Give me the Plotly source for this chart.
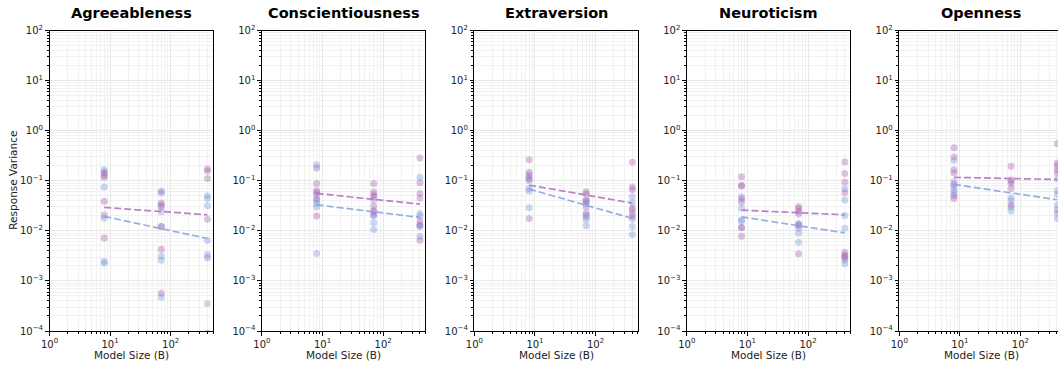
import math
import plotly.graph_objects as go

# ---------------- data ----------------
SIZES = [8, 70, 405]          # model sizes (B)
TREND_X = [8, 405]
TRAITS = ["Agreeableness", "Conscientiousness", "Extraversion", "Neuroticism", "Openness"]

# purple series values per model size
AGREEABLENESS_PURPLE = [[0.143, 0.126, 0.118, 0.039, 0.0206, 0.0072],
                        [0.062, 0.0358, 0.0327, 0.0298, 0.0122, 0.0043, 0.00057],
                        [0.171, 0.156, 0.111, 0.0171, 0.0029, 0.00009]]
AGREEABLENESS_BLUE = [[0.165, 0.15, 0.075, 0.0178, 0.00247, 0.00225],
                      [0.057, 0.024, 0.0122, 0.0031, 0.0026, 0.00047],
                      [0.05, 0.044, 0.0316, 0.0064, 0.00336, 0.00035]]
AGREEABLENESS_TREND_PURPLE = [0.0293, 0.0209]
AGREEABLENESS_TREND_BLUE = [0.0194, 0.00703]

CONSCIENTIOUSNESS_PURPLE = [[0.179, 0.0885, 0.063, 0.058, 0.0437, 0.0197],
                            [0.0885, 0.0594, 0.0525, 0.0479, 0.0312, 0.0251, 0.0209],
                            [0.284, 0.091, 0.0558, 0.045, 0.0158, 0.0124, 0.0065]]
CONSCIENTIOUSNESS_BLUE = [[0.209, 0.0525, 0.040, 0.0352, 0.030, 0.00352],
                          [0.0411, 0.024, 0.0197, 0.0145, 0.0106],
                          [0.117, 0.0222, 0.0197, 0.0136, 0.0125, 0.00783]]
CONSCIENTIOUSNESS_TREND_PURPLE = [0.0558, 0.0342]
CONSCIENTIOUSNESS_TREND_BLUE = [0.0331, 0.0185]

EXTRAVERSION_PURPLE = [[0.263, 0.147, 0.13, 0.108, 0.0177],
                       [0.060, 0.055, 0.040, 0.0298, 0.0206],
                       [0.233, 0.0748, 0.066, 0.028, 0.0219, 0.0194]]
EXTRAVERSION_BLUE = [[0.119, 0.1, 0.0703, 0.0622, 0.0288],
                     [0.0417, 0.038, 0.0347, 0.0226, 0.0188, 0.0166, 0.0126],
                     [0.0472, 0.0358, 0.0263, 0.0171, 0.0122, 0.00845]]
EXTRAVERSION_TREND_PURPLE = [0.082, 0.0358]
EXTRAVERSION_TREND_BLUE = [0.0682, 0.0177]

NEUROTICISM_PURPLE = [[0.12, 0.0807, 0.079, 0.0437, 0.0375, 0.0117, 0.0078],
                      [0.0302, 0.0275, 0.0244, 0.0216, 0.0128, 0.0035],
                      [0.236, 0.14, 0.094, 0.0575, 0.00375, 0.0033, 0.0031, 0.0029]]
NEUROTICISM_BLUE = [[0.0479, 0.0284, 0.0164, 0.0158, 0.0117],
                    [0.014, 0.0135, 0.0113, 0.0091, 0.0059],
                    [0.069, 0.0411, 0.0203, 0.0113, 0.0026, 0.0022]]
NEUROTICISM_TREND_PURPLE = [0.0259, 0.0209]
NEUROTICISM_TREND_BLUE = [0.019, 0.0091]

OPENNESS_PURPLE = [[0.457, 0.298, 0.166, 0.143, 0.0845, 0.05, 0.0443],
                   [0.194, 0.105, 0.0955, 0.0703, 0.0327],
                   [0.55, 0.226, 0.2, 0.166, 0.143, 0.026]]
OPENNESS_BLUE = [[0.255, 0.0955, 0.0748, 0.0641, 0.0567],
                 [0.087, 0.0457, 0.0404, 0.0298, 0.0248],
                 [0.108, 0.064, 0.0533, 0.0327, 0.0222, 0.0177]]
OPENNESS_TREND_PURPLE = [0.117, 0.106]
OPENNESS_TREND_BLUE = [0.0845, 0.0417]

Y_TICK_VALS = [1e-4, 1e-3, 1e-2, 1e-1, 1, 10, 100]
Y_TICK_TEXT = ["10<sup>−4</sup>", "10<sup>−3</sup>", "10<sup>−2</sup>", "10<sup>−1</sup>",
               "10<sup>0</sup>", "10<sup>1</sup>", "10<sup>2</sup>"]
X_TICK_VALS = [1, 10, 100]
X_TICK_TEXT = ["10<sup>0</sup>", "10<sup>1</sup>", "10<sup>2</sup>"]

PANELS = [
    (AGREEABLENESS_PURPLE, AGREEABLENESS_BLUE, AGREEABLENESS_TREND_PURPLE, AGREEABLENESS_TREND_BLUE),
    (CONSCIENTIOUSNESS_PURPLE, CONSCIENTIOUSNESS_BLUE, CONSCIENTIOUSNESS_TREND_PURPLE, CONSCIENTIOUSNESS_TREND_BLUE),
    (EXTRAVERSION_PURPLE, EXTRAVERSION_BLUE, EXTRAVERSION_TREND_PURPLE, EXTRAVERSION_TREND_BLUE),
    (NEUROTICISM_PURPLE, NEUROTICISM_BLUE, NEUROTICISM_TREND_PURPLE, NEUROTICISM_TREND_BLUE),
    (OPENNESS_PURPLE, OPENNESS_BLUE, OPENNESS_TREND_PURPLE, OPENNESS_TREND_BLUE),
]

# ---------------- styling ----------------
W, H = 1058, 367
FONT = "DejaVu Sans"
PURPLE_PT = "rgba(168,96,176,0.38)"
BLUE_PT = "rgba(120,150,220,0.38)"
PURPLE_LN = "rgba(176,118,190,0.9)"
BLUE_LN = "rgba(140,165,225,0.9)"
GRID_MAJ = "#e8e8e8"
GRID_MIN = "#f1f1f1"

LEFT0 = 49.5
STEP = 212.45
PW = 163.5
TOP, BOT = 30.5, 331.0
XMAX = 500.0

minor_x = [k * 10 ** e for e in range(0, 3) for k in range(2, 10)]
minor_y = [k * 10.0 ** e for e in range(-4, 2) for k in range(2, 10)]


def flat(groups):
    xs, ys = [], []
    for s, vals in zip(SIZES, groups):
        xs += [s] * len(vals)
        ys += vals
    return xs, ys


fig = go.Figure()
layout = dict(width=W, height=H, margin=dict(l=0, r=0, t=0, b=0),
              paper_bgcolor="white", plot_bgcolor="white",
              font=dict(family=FONT, size=10, color="#222"), showlegend=False)
annotations = []

for i, (trait, (pp, bb, tp, tb)) in enumerate(zip(TRAITS, PANELS)):
    n = i + 1
    xa = "x" if n == 1 else f"x{n}"
    ya = "y" if n == 1 else f"y{n}"
    left = LEFT0 + STEP * i
    right = min(left + PW, W)
    xr_hi = math.log10(XMAX) * (right - left) / PW

    bx, by = flat(bb)
    px, py = flat(pp)
    fig.add_trace(go.Scatter(x=bx, y=by, mode="markers", xaxis=xa, yaxis=ya,
                             marker=dict(size=7, color=BLUE_PT, line=dict(width=0)),
                             name="blue", cliponaxis=True))
    fig.add_trace(go.Scatter(x=px, y=py, mode="markers", xaxis=xa, yaxis=ya,
                             marker=dict(size=7, color=PURPLE_PT, line=dict(width=0)),
                             name="purple", cliponaxis=True))
    fig.add_trace(go.Scatter(x=TREND_X, y=tp, mode="lines", xaxis=xa, yaxis=ya,
                             line=dict(color=PURPLE_LN, width=1.7, dash="7px,3px"),
                             name="purple trend"))
    fig.add_trace(go.Scatter(x=TREND_X, y=tb, mode="lines", xaxis=xa, yaxis=ya,
                             line=dict(color=BLUE_LN, width=1.7, dash="7px,3px"),
                             name="blue trend"))

    common = dict(showline=True, linecolor="black", linewidth=1,
                  ticks="outside", ticklen=3.5, tickwidth=0.8, tickcolor="black",
                  showgrid=True, gridcolor=GRID_MAJ, gridwidth=0.8, zeroline=False,
                  tickfont=dict(family=FONT, size=10, color="#222"), automargin=False)
    layout["xaxis" if n == 1 else f"xaxis{n}"] = dict(
        common, type="log", range=[0, xr_hi], anchor=ya, mirror=True,
        domain=[left / W, right / W], tickmode="array", tickvals=X_TICK_VALS, ticktext=X_TICK_TEXT,
        minor=dict(tickmode="array", tickvals=minor_x, ticks="outside", ticklen=2,
                   tickwidth=0.6, tickcolor="black", showgrid=True, gridcolor=GRID_MIN, gridwidth=0.6))
    layout["yaxis" if n == 1 else f"yaxis{n}"] = dict(
        common, type="log", range=[-4, 2], anchor=xa, mirror=(n != 5),
        domain=[1 - BOT / H, 1 - TOP / H], tickmode="array", tickvals=Y_TICK_VALS, ticktext=Y_TICK_TEXT,
        minor=dict(tickmode="array", tickvals=minor_y, ticks="outside", ticklen=2,
                   tickwidth=0.6, tickcolor="black", showgrid=True, gridcolor=GRID_MIN, gridwidth=0.6))

    cx = (left + left + PW) / 2 / W
    annotations.append(dict(text=f"<b>{trait}</b>", x=cx, y=1 - 13 / H, xref="paper", yref="paper",
                            showarrow=False, xanchor="center", yanchor="middle",
                            font=dict(family=FONT, size=14.5, color="black")))
    annotations.append(dict(text="Model Size (B)", x=cx, y=1 - 355 / H, xref="paper", yref="paper",
                            showarrow=False, xanchor="center", yanchor="middle",
                            font=dict(family=FONT, size=10.5, color="#222")))

annotations.append(dict(text="Response Variance", x=13 / W, y=1 - 180.7 / H, xref="paper", yref="paper",
                        showarrow=False, xanchor="center", yanchor="middle", textangle=-90,
                        font=dict(family=FONT, size=10.5, color="#222")))
layout["annotations"] = annotations
fig.update_layout(**layout)
fig.write_html("out.html", config={"displayModeBar": False},
               post_script="document.body.style.margin='0';document.body.style.overflow='hidden';")
